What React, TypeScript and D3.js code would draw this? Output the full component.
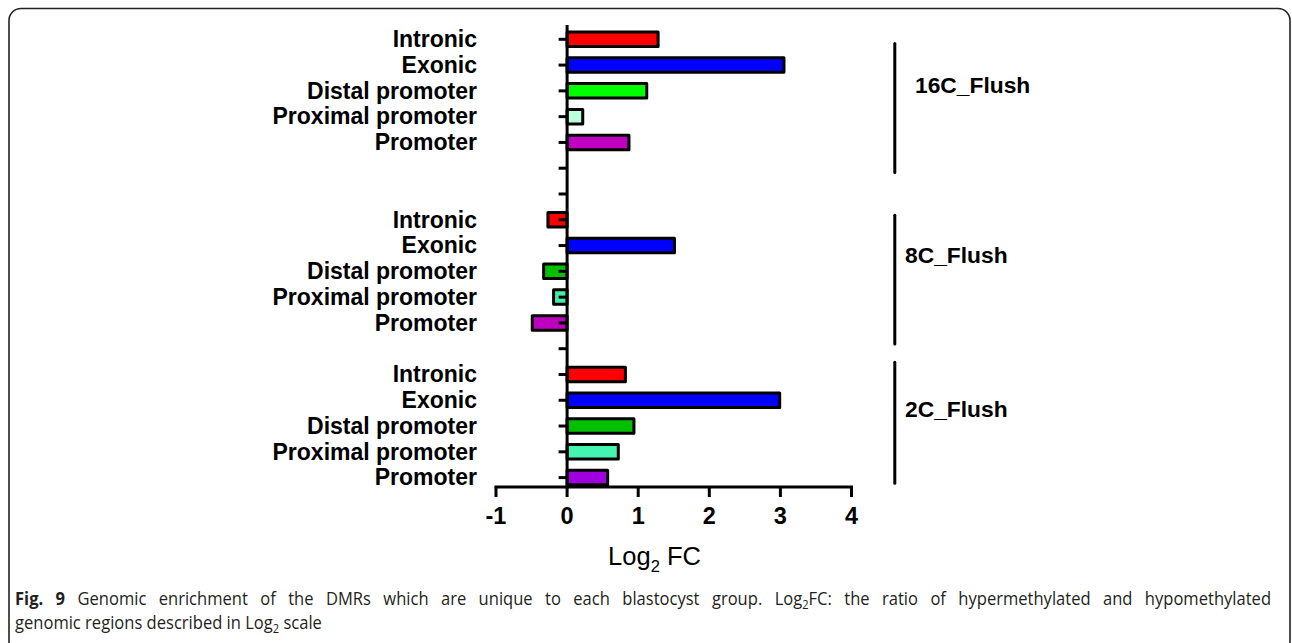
import React, { useEffect, useRef } from "react";
import * as d3 from "d3";

// Genomic region categories (top to bottom inside each group)
const regions = ["Intronic", "Exonic", "Distal promoter", "Proximal promoter", "Promoter"];
const groups = ["16C_Flush", "8C_Flush", "2C_Flush"];

// Log2 fold change per region, per group
const values16C = [1.28, 3.05, 1.12, 0.22, 0.87];
const values8C = [-0.27, 1.51, -0.33, -0.19, -0.49];
const values2C = [0.82, 2.99, 0.94, 0.72, 0.57];

// Fill colours per region, per group
const colors16C = ["#ff0000", "#0000ff", "#00ff00", "#bbffdd", "#c000c0"];
const colors8C = ["#ff0000", "#0000ff", "#00c000", "#44eeaa", "#c000c0"];
const colors2C = ["#ff0000", "#0000ff", "#00c000", "#44f4b0", "#a000e0"];

const xTicks = [-1, 0, 1, 2, 3, 4];

// Empty slots separating the groups on the category axis
const gapsAfter = [2, 1, 0];

// Group bracket extents and label positions, in category-slot units
const bracketStart = [0.16, 6.82, 12.53];
const bracketEnd = [5.17, 11.82, 17.22];
const groupLabelRow = [1.77, 8.37, 14.34];

const captionLine1Rest =
  " Genomic enrichment of the DMRs which are unique to each blastocyst group. Log";
const captionLine1Tail = "FC: the ratio of hypermethylated and hypomethylated";
const captionLine2 = "genomic regions described in Log";
const captionLine2Tail = " scale";

type Row = { key: string; label: string; value: number | null; color: string };

const groupValues = [values16C, values8C, values2C];
const groupColors = [colors16C, colors8C, colors2C];

const rows: Row[] = [];
groups.forEach((g, gi) => {
  regions.forEach((r, ri) => {
    rows.push({ key: `${g}-${r}`, label: r, value: groupValues[gi][ri], color: groupColors[gi][ri] });
  });
  for (let k = 0; k < gapsAfter[gi]; k++) {
    rows.push({ key: `${g}-gap${k}`, label: "", value: null, color: "none" });
  }
});

const FONT = "'Liberation Sans', Arial, Helvetica, sans-serif";
const CAPTION_FONT = "'Open Sans', 'Noto Sans', sans-serif";
const CAPTION_SQUEEZE = 0.92;

export default function App() {
  const W = 1292;
  const H = 643;
  const captionRef = useRef<SVGTextElement>(null);

  // Justify the first caption line across the frame by widening word gaps
  useEffect(() => {
    const el = captionRef.current;
    if (!el) return;
    el.style.wordSpacing = "0px";
    const natural = el.getComputedTextLength();
    const target = (1271 - 15) / CAPTION_SQUEEZE;
    const spaces = (el.textContent || "").split(" ").length - 1;
    if (spaces > 0 && natural < target) {
      el.style.wordSpacing = `${(target - natural) / spaces}px`;
    }
  }, []);

  const x = d3.scaleLinear().domain([-1, 4]).range([496, 851.5]);
  const y = d3
    .scalePoint<string>()
    .domain(rows.map((r) => r.key))
    .range([39.3, 477.6]);
  const rowY = d3.scaleLinear().domain([0, rows.length - 1]).range([39.3, 477.6]);

  const axisY = 487;
  const axisTop = 25;
  const barH = 14.5;
  const x0 = x(0);

  return (
    <svg
      width={W}
      height={H}
      style={{ position: "absolute", left: 0, top: 0, background: "#fff" }}
    >
      {/* frame */}
      <rect x={9} y={8.5} width={1281} height={645} rx={12} ry={12} fill="none" stroke="#222" strokeWidth={1.6} />

      {/* bars */}
      {rows
        .filter((r) => r.value !== null)
        .map((r) => {
          const v = r.value as number;
          const cy = y(r.key) as number;
          return (
            <rect
              key={r.key}
              x={Math.min(x(0), x(v))}
              y={cy - barH / 2}
              width={Math.abs(x(v) - x(0))}
              height={barH}
              fill={r.color}
              stroke="#000"
              strokeWidth={3}
              strokeLinejoin="round"
            />
          );
        })}

      {/* category axis */}
      <line x1={x0} x2={x0} y1={axisTop} y2={axisY + 1.5} stroke="#000" strokeWidth={3} />
      {rows.map((r) => {
        const cy = y(r.key) as number;
        return <line key={`t-${r.key}`} x1={x0 - 8.5} x2={x0} y1={cy} y2={cy} stroke="#000" strokeWidth={3} />;
      })}
      {rows
        .filter((r) => r.label)
        .map((r) => (
          <text
            key={`l-${r.key}`}
            x={477}
            y={(y(r.key) as number) + 7.8}
            textAnchor="end"
            fontFamily={FONT}
            fontWeight="bold"
            fontSize={23}
            fill="#000"
          >
            {r.label}
          </text>
        ))}

      {/* value axis */}
      <line x1={x(-1)} x2={x(4)} y1={axisY} y2={axisY} stroke="#000" strokeWidth={3} strokeLinecap="square" />
      {xTicks.map((t) => (
        <g key={`x-${t}`}>
          <line x1={x(t)} x2={x(t)} y1={axisY} y2={axisY + 10} stroke="#000" strokeWidth={3} />
          <text
            x={x(t)}
            y={523.5}
            textAnchor="middle"
            fontFamily={FONT}
            fontWeight="bold"
            fontSize={23.5}
            fill="#000"
          >
            {t < 0 ? `-${Math.abs(t)}` : t}
          </text>
        </g>
      ))}
      <text x={654.5} y={565} textAnchor="middle" fontFamily={FONT} fontSize={25.5} fill="#000">
        Log<tspan fontSize={16.5} dy={7}>2</tspan>
        <tspan dy={-7}> FC</tspan>
      </text>

      {/* group brackets */}
      {groups.map((g, gi) => (
        <g key={g}>
          <line
            x1={894.8}
            x2={894.8}
            y1={rowY(bracketStart[gi])}
            y2={rowY(bracketEnd[gi])}
            stroke="#000"
            strokeWidth={3}
            strokeLinecap="round"
          />
          <text
            x={gi === 0 ? 915 : 905}
            y={rowY(groupLabelRow[gi]) + 8}
            fontFamily={FONT}
            fontWeight="bold"
            fontSize={22.8}
            fill="#000"
          >
            {g}
          </text>
        </g>
      ))}

      {/* caption */}
      <g transform={`translate(15,0) scale(${CAPTION_SQUEEZE},1)`}>
        <text ref={captionRef} x={0} y={605} fontFamily={CAPTION_FONT} fontSize={18} fill="#231f20">
          <tspan fontWeight="bold">Fig. 9</tspan>
          <tspan>{captionLine1Rest}</tspan>
          <tspan fontSize={12} dy={4}>2</tspan>
          <tspan dy={-4}>{captionLine1Tail}</tspan>
        </text>
        <text x={0} y={629} fontFamily={CAPTION_FONT} fontSize={18} fill="#231f20">
          <tspan>{captionLine2}</tspan>
          <tspan fontSize={12} dy={4}>2</tspan>
          <tspan dy={-4}>{captionLine2Tail}</tspan>
        </text>
      </g>
    </svg>
  );
}
